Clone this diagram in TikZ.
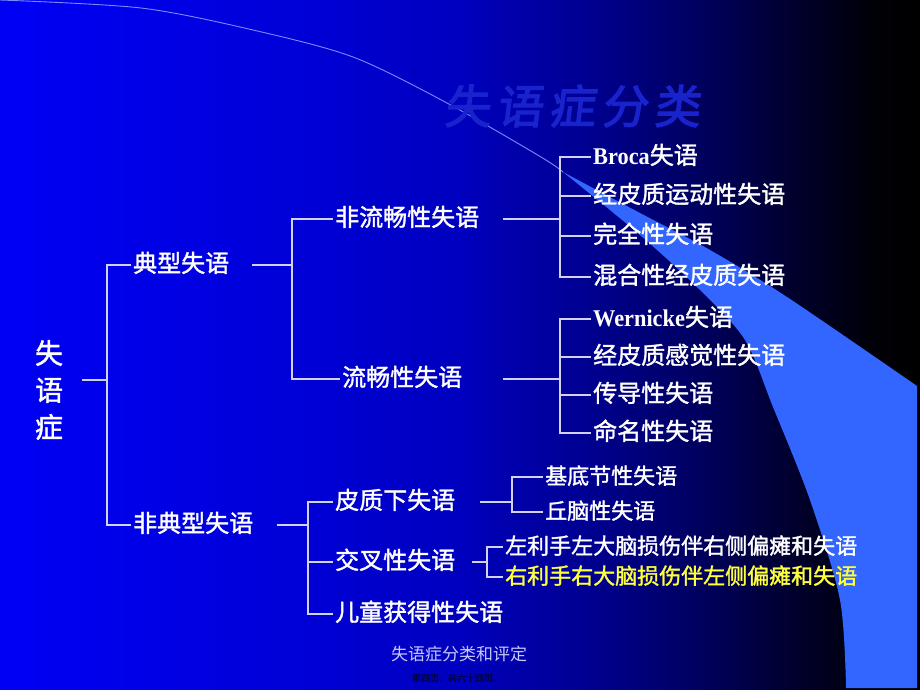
\documentclass[tikz,border=0pt]{standalone}
\usepackage{fontspec}
\newfontfamily\cjk[FakeBold=1.5]{Noto Sans CJK SC}
\newfontfamily\cjkplain{Noto Sans CJK SC}
\newfontfamily\titlef[FakeBold=2.5,FakeSlant=0.12,LetterSpace=14]{Noto Sans CJK SC}
\newfontfamily\latf[FakeStretch=0.93]{Liberation Serif}
\definecolor{c0}{RGB}{0,0,245}
\definecolor{c1}{RGB}{0,0,215}
\definecolor{c2}{RGB}{0,0,190}
\definecolor{c3}{RGB}{0,0,140}
\definecolor{c4}{RGB}{0,0,95}
\definecolor{c5}{RGB}{0,0,42}
\definecolor{c6}{RGB}{0,0,8}
\definecolor{c7}{RGB}{0,0,0}
\definecolor{wedgeblue}{RGB}{51,102,255}
\definecolor{arccol}{RGB}{120,140,255}
\definecolor{linecol}{RGB}{210,210,238}
\definecolor{titlecol}{RGB}{25,35,205}
\definecolor{footcol}{RGB}{200,200,255}
\definecolor{pagecol}{RGB}{0,0,70}
\definecolor{yel}{RGB}{255,255,60}
\pgfdeclarehorizontalshading{bgshade}{100bp}{color(0bp)=(c0); color(25bp)=(c0); color(41.3bp)=(c1); color(50bp)=(c2); color(57.6bp)=(c3); color(63bp)=(c4); color(68.5bp)=(c5); color(72.3bp)=(c6); color(75bp)=(c7); color(100bp)=(c7)}
\newcommand{\latw}[1]{{\latf\bfseries\fontsize{24}{24}\selectfont #1}}
\tikzset{
  lbl/.style={anchor=west, text=white, inner sep=2pt, font=\cjk\fontsize{24}{24}\selectfont, text height=18pt, text depth=4pt},
  sublbl/.style={lbl, font=\cjk\fontsize{22}{22}\selectfont},
  conn/.style={draw=linecol, line width=1.1pt},
  arcline/.style={draw=arccol, line width=0.9pt},
}
\begin{document}
\begin{tikzpicture}[x=1pt,y=-1pt]
\useasboundingbox (0,0) rectangle (920,690);
% background
\shade[shading=bgshade] (0,0) rectangle (920,690);
\fill[wedgeblue] plot[smooth] coordinates {(563,172) (640,213) (710,250) (787,297) (917,386)} -- (917,688) -- plot[smooth] coordinates {(846,688) (840,600) (810,500) (773,407) (745,340) (700,290) (640,235) (563,172)} -- cycle;
\draw[arcline] plot[smooth] coordinates {(0,0) (141,8) (253,30) (353,57) (447,103) (541,157) (563,172)};
% title
\node[text=titlecol, font=\titlef\fontsize{46}{46}\selectfont, anchor=west, inner sep=0pt] (title) at (444,106) {失语症分类};
% root
\node[text=white, align=center, font=\cjk\fontsize{28}{37}\selectfont, inner sep=0pt] (root) at (49,390) {失\\语\\症};
% level 1
\node[lbl] (typ) at (131,265) {典型失语};
\node[lbl] (atyp) at (131,525) {非典型失语};
% level 2
\node[lbl] (nf) at (333,219) {非流畅性失语};
\node[lbl] (fl) at (340,379) {流畅性失语};
\node[lbl] (sub) at (333,502) {皮质下失语};
\node[lbl] (cross) at (333,562) {交叉性失语};
\node[lbl] (child) at (333,614) {儿童获得性失语};
% level 3
\node[lbl] (b1) at (591,157) {\latw{Broca}失语};
\node[lbl] (b2) at (591,196) {经皮质运动性失语};
\node[lbl] (b3) at (591,236) {完全性失语};
\node[lbl] (b4) at (591,277) {混合性经皮质失语};
\node[lbl] (w1) at (591,319) {\latw{Wernicke}失语};
\node[lbl] (w2) at (591,357) {经皮质感觉性失语};
\node[lbl] (w3) at (591,395) {传导性失语};
\node[lbl] (w4) at (591,433) {命名性失语};
\node[sublbl] (bg) at (543,477) {基底节性失语};
\node[sublbl] (qn) at (543,512) {丘脑性失语};
\node[sublbl] (l1) at (503,547) {左利手左大脑损伤伴右侧偏瘫和失语};
\node[sublbl, text=yel] (l2) at (503,577) {右利手右大脑损伤伴左侧偏瘫和失语};
% footer
\node[text=footcol, font=\cjkplain\fontsize{17}{17}\selectfont, inner sep=0pt] (foot) at (459,654) {失语症分类和评定};
\node[text=pagecol, font=\cjk\fontsize{9}{9}\selectfont, inner sep=0pt] (page) at (457,678) {第四页，共六十四页。};
% junctions and stubs
\coordinate (r0) at (82,380);
\coordinate (j0) at (107,380);
\coordinate (t0) at (252,265);
\coordinate (j1) at (292,265);
\coordinate (n0) at (503,219);
\coordinate (j2) at (560,219);
\coordinate (f0) at (503,379);
\coordinate (j3) at (560,379);
\coordinate (a0) at (277,525);
\coordinate (j4) at (308,525);
\coordinate (s0) at (480,502);
\coordinate (j5) at (512,502);
\coordinate (x0) at (472,562);
\coordinate (j6) at (487,562);
% connectors
\draw[conn] (r0) -- (j0);
\draw[conn] (typ.west) -| (j0) |- (atyp.west);
\draw[conn] (t0) -- (j1);
\draw[conn] (nf.west) -| (j1) |- (fl.west);
\draw[conn] (n0) -- (j2);
\draw[conn] (b1.west) -| (j2) |- (b4.west);
\draw[conn] (j2) |- (b2.west);
\draw[conn] (j2) |- (b3.west);
\draw[conn] (f0) -- (j3);
\draw[conn] (w1.west) -| (j3) |- (w4.west);
\draw[conn] (j3) |- (w2.west);
\draw[conn] (j3) |- (w3.west);
\draw[conn] (a0) -- (j4);
\draw[conn] (sub.west) -| (j4) |- (child.west);
\draw[conn] (j4) |- (cross.west);
\draw[conn] (s0) -- (j5);
\draw[conn] (bg.west) -| (j5) |- (qn.west);
\draw[conn] (x0) -- (j6);
\draw[conn] (l1.west) -| (j6) |- (l2.west);
\end{tikzpicture}
\end{document}
